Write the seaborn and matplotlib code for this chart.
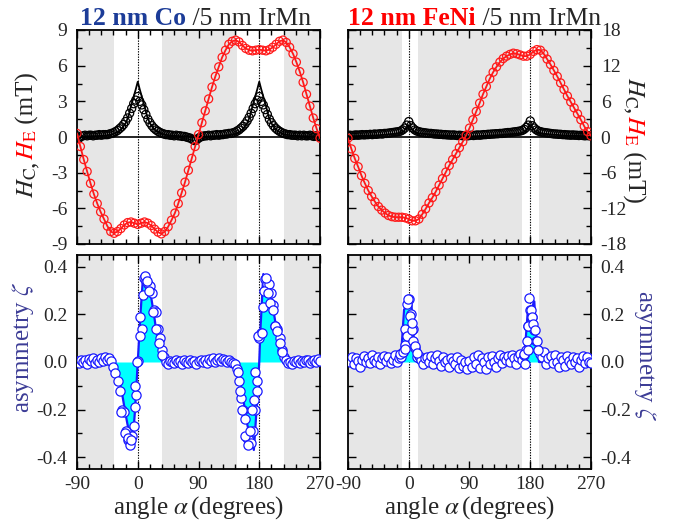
import numpy as np
import pandas as pd
import matplotlib
matplotlib.use("Agg")
import matplotlib.pyplot as plt
import seaborn as sns
from matplotlib.ticker import MultipleLocator, FuncFormatter

# ------------------------------------------------------------------ data
angle5 = np.arange(-90, 271, 5)    # grid of the exchange-bias curves
angle3 = np.arange(-90, 271, 3)    # grid of coercivity / asymmetry points

# 12 nm Co : exchange bias field H_E (mT), every 5 deg from -90
co_HE = [0.3, -0.8, -1.9, -2.9, -3.9, -4.8, -5.6, -6.3, -6.9, -7.5,
         -7.95, -8.1, -7.95, -7.7, -7.4, -7.2, -7.15, -7.25, -7.35, -7.25,
         -7.15, -7.25, -7.45, -7.75, -8.0, -8.15, -7.95, -7.55, -7.0, -6.4,
         -5.6, -4.7, -3.8, -2.8, -1.8, -0.8, 0.2, 1.2, 2.2, 3.2,
         4.2, 5.1, 5.9, 6.7, 7.3, 7.8, 8.05, 8.15, 8.0, 7.7,
         7.45, 7.3, 7.25, 7.3, 7.35, 7.3, 7.25, 7.35, 7.55, 7.8,
         8.05, 8.15, 7.95, 7.55, 7.0, 6.3, 5.5, 4.6, 3.6, 2.6,
         1.6, 0.7, -0.1]

# 12 nm Co : coercive field H_C (mT), every 3 deg from -90
co_HC = [0.10, -0.10, 0.05, 0.10, 0.15, 0.10, 0.15, 0.15, 0.10, 0.15,
         0.15, 0.20, 0.15, 0.20, 0.20, 0.20, 0.25, 0.30, 0.35, 0.45,
         0.55, 0.70, 0.85, 1.05, 1.30, 1.60, 2.00, 2.40, 2.80, 3.10,
         3.40, 3.00, 2.70, 2.30, 1.90, 1.50, 1.20, 0.95, 0.75, 0.60,
         0.48, 0.38, 0.30, 0.25, 0.20, 0.20, 0.15, 0.15, 0.10, 0.15,
         0.10, 0.10, 0.05, 0.05, 0.00, -0.05, -0.10, -0.20, -0.30, -0.25,
         -0.10, 0.00, 0.05, 0.10, 0.10, 0.15, 0.10, 0.15, 0.15, 0.20,
         0.15, 0.20, 0.20, 0.25, 0.25, 0.30, 0.30, 0.35, 0.40, 0.50,
         0.60, 0.75, 0.90, 1.10, 1.35, 1.65, 2.00, 2.40, 2.80, 3.10,
         3.40, 3.00, 2.70, 2.30, 1.90, 1.50, 1.20, 0.95, 0.75, 0.60,
         0.48, 0.38, 0.30, 0.25, 0.20, 0.20, 0.15, 0.15, 0.15, 0.10,
         0.15, 0.10, 0.15, 0.10, 0.10, 0.15, 0.10, 0.05, 0.10, 0.05,
         0.00]

# 12 nm Co : model curve of H_C
co_HC_fit_angle = [-90, -60, -45, -36, -30, -24, -18, -14, -10, -6, -3, 0, 3, 6, 10,
                   14, 18, 24, 30, 36, 45, 60, 90, 120, 135, 144, 150, 156, 162, 166,
                   170, 174, 177, 180, 183, 186, 190, 194, 198, 204, 210, 216, 225, 240, 270]
co_HC_fit = [0.05, 0.08, 0.15, 0.25, 0.40, 0.68, 1.15, 1.70, 2.60, 3.40, 4.00, 4.65, 4.00, 3.40, 2.60,
             1.70, 1.15, 0.68, 0.40, 0.25, 0.15, 0.08, 0.05, 0.08, 0.15, 0.25, 0.40, 0.68, 1.15, 1.70,
             2.60, 3.40, 4.00, 4.65, 4.00, 3.40, 2.60, 1.70, 1.15, 0.68, 0.40, 0.25, 0.15, 0.08, 0.05]

# 12 nm FeNi : exchange bias field H_E (mT), every 5 deg from -90
fe_HE = [-0.2, -2.0, -3.6, -5.0, -6.5, -7.8, -9.0, -10.0, -10.9, -11.7,
         -12.3, -12.8, -13.2, -13.4, -13.5, -13.5, -13.5, -13.6, -13.8, -14.1,
         -14.1, -13.8, -13.0, -12.1, -11.1, -10.2, -9.2, -8.1, -7.0, -5.9,
         -4.8, -3.8, -2.8, -1.8, -0.8, 0.3, 1.5, 2.9, 4.3, 5.7,
         7.2, 8.5, 9.8, 10.9, 11.8, 12.6, 13.2, 13.6, 13.9, 14.1,
         14.0, 13.8, 13.6, 13.6, 13.9, 14.4, 14.7, 14.6, 14.0, 13.1,
         12.2, 11.2, 10.2, 9.1, 8.0, 6.9, 5.9, 4.9, 3.9, 2.9,
         1.8, 0.9, 0.2]

# 12 nm FeNi : coercive field H_C (mT), every 3 deg from -90
fe_HC = [0.20, 0.30, 0.25, 0.30, 0.35, 0.30, 0.35, 0.40, 0.35, 0.40,
         0.40, 0.45, 0.40, 0.50, 0.45, 0.50, 0.55, 0.50, 0.60, 0.60,
         0.65, 0.70, 0.75, 0.80, 0.85, 0.90, 1.00, 1.20, 1.50, 2.00,
         2.60, 1.90, 1.50, 1.20, 1.00, 0.90, 0.80, 0.75, 0.70, 0.65,
         0.60, 0.60, 0.55, 0.50, 0.50, 0.45, 0.45, 0.40, 0.40, 0.35,
         0.35, 0.30, 0.35, 0.30, 0.25, 0.30, 0.25, 0.20, 0.25, 0.20,
         0.25, 0.30, 0.25, 0.30, 0.35, 0.30, 0.35, 0.40, 0.40, 0.45,
         0.45, 0.50, 0.50, 0.55, 0.55, 0.60, 0.60, 0.65, 0.70, 0.75,
         0.75, 0.80, 0.85, 0.90, 0.95, 1.00, 1.10, 1.30, 1.60, 2.00,
         2.70, 1.90, 1.50, 1.20, 1.00, 0.90, 0.80, 0.75, 0.70, 0.65,
         0.60, 0.55, 0.50, 0.50, 0.45, 0.45, 0.40, 0.40, 0.35, 0.35,
         0.30, 0.35, 0.30, 0.30, 0.25, 0.30, 0.25, 0.20, 0.25, 0.20,
         0.20]

fe_HC_fit_angle = [-90, -45, -15, -8, 0, 8, 15, 45, 90, 135, 165, 172, 180, 188, 195, 225, 270]
fe_HC_fit = [0.1, 0.3, 0.6, 0.9, 2.0, 0.9, 0.6, 0.3, 0.1, 0.3, 0.6, 0.9, 2.0, 0.9, 0.6, 0.3, 0.1]

# 12 nm Co : asymmetry zeta, every 3 deg from -90 (+ extra points)
co_zeta = [0.005, -0.005, 0.010, 0.000, 0.008, -0.010, 0.012, 0.005, 0.015, -0.005,
           0.010, 0.000, 0.015, 0.005, 0.020, 0.010, 0.015, 0.005, -0.020, -0.045,
           -0.080, -0.120, -0.200, -0.210, -0.290, -0.330, -0.350, -0.310, -0.270, -0.140,
           0.005, 0.190, 0.140, 0.355, 0.340, 0.330, 0.320, 0.290, 0.220, 0.210,
           0.140, 0.100, 0.050, 0.020, 0.000, -0.010, 0.005, 0.000, -0.005, 0.010,
           0.000, 0.005, -0.010, 0.008, 0.000, -0.005, 0.010, 0.000, 0.005, -0.008,
           0.005, 0.010, 0.000, 0.008, -0.005, 0.012, 0.005, 0.015, 0.000, 0.010,
           0.018, 0.005, 0.012, 0.010, 0.000, 0.008, 0.000, -0.005, -0.010, -0.030,
           -0.080, -0.150, -0.200, -0.240, -0.320, -0.330, -0.340, -0.290, -0.200, -0.120,
           0.100, 0.120, 0.230, 0.350, 0.330, 0.330, 0.290, 0.240, 0.150, 0.140,
           0.100, 0.050, 0.020, 0.010, -0.005, 0.000, -0.010, 0.005, 0.000, 0.010,
           -0.005, 0.005, 0.000, 0.008, 0.010, -0.005, 0.005, 0.010, 0.000, 0.012,
           0.005]
co_zeta_x_angle = [-25, -19, -14, -10, -4.5, -4, -1, 4, 8, 10, 13, 17, 22, 27, 31, 36,
                   148, 152, 155, 159, 163, 166, 169, 172, 174, 177, 178.6,
                   184, 187, 190, 193, 196, 200, 203, 206, 211, 214]
co_zeta_x = [-0.21, -0.30, -0.32, -0.33, -0.10, -0.19, 0.00, 0.11, 0.28, 0.36, 0.34, 0.30, 0.21, 0.14, 0.08, 0.03,
             -0.04, -0.12, -0.20, -0.31, -0.35, -0.29, -0.20, -0.16, -0.04, -0.08, 0.108,
             0.12, 0.30, 0.355, 0.29, 0.25, 0.22, 0.15, 0.13, 0.08, 0.04]

co_zfit_angle = [-90, -40, -36, -30, -24, -18, -12, -8, -4, 0,
                 4, 8, 12, 16, 20, 24, 28, 32, 36, 40,
                 140, 144, 150, 156, 162, 168, 172, 176, 180, 182,
                 186, 190, 194, 198, 202, 206, 210, 214, 218, 270]
co_zfit = [0.0, 0.0, -0.01, -0.05, -0.12, -0.22, -0.31, -0.355, -0.20, 0.0,
           0.20, 0.367, 0.35, 0.32, 0.27, 0.20, 0.12, 0.06, 0.02, 0.0,
           0.0, -0.005, -0.06, -0.15, -0.26, -0.33, -0.37, -0.20, 0.0, 0.15,
           0.37, 0.35, 0.33, 0.27, 0.20, 0.13, 0.05, 0.01, 0.0, 0.0]

# 12 nm FeNi : asymmetry zeta, every 3 deg from -90 (+ extra points)
fe_zeta = [0.010, 0.000, 0.020, -0.010, 0.015, 0.005, -0.020, 0.010, 0.025, 0.000,
           0.015, -0.005, 0.030, 0.010, 0.000, 0.020, -0.010, 0.015, 0.025, 0.005,
           0.020, -0.005, 0.010, 0.030, 0.000, 0.015, 0.020, 0.040, 0.070, 0.120,
           0.265, 0.200, 0.140, 0.060, 0.020, 0.025, 0.010, -0.010, 0.015, 0.020,
           0.000, 0.025, -0.010, 0.015, 0.030, 0.005, -0.015, 0.020, 0.000, 0.010,
           -0.020, 0.015, 0.005, -0.010, 0.020, -0.025, 0.010, -0.015, 0.000, -0.030,
           0.005, -0.020, 0.020, -0.010, 0.030, -0.025, 0.015, 0.000, -0.030, 0.020,
           -0.010, 0.025, 0.000, -0.020, 0.015, 0.030, -0.005, 0.020, 0.010, 0.025,
           0.000, 0.030, 0.015, -0.010, 0.020, 0.035, 0.010, 0.030, 0.050, 0.150,
           0.220, 0.190, 0.135, 0.087, 0.050, 0.035, 0.020, 0.040, -0.010, 0.015,
           0.025, -0.005, 0.030, 0.000, -0.020, 0.020, 0.010, -0.015, 0.025, 0.005,
           -0.010, 0.020, 0.000, 0.015, -0.020, 0.010, 0.025, -0.005, 0.020, 0.000,
           -0.005]
fe_zeta_x_angle = [-13, -8, -5.6, -5.6, -3.2, -2.0, -0.6, 1.9, 4.3, 5.3, 6.7, 9.1, 11.6,
                   171, 172, 175.7, 176, 177, 178.6, 180.6, 182, 184.5, 187, 189.5, 192]
fe_zeta_x = [0.035, 0.04, 0.055, 0.14, 0.11, 0.245, 0.265, 0.195, 0.135, 0.165, 0.09, 0.066, 0.038,
             0.035, -0.01, 0.09, 0.05, 0.15, 0.27, 0.22, 0.19, 0.16, 0.135, 0.087, 0.05]

fe_zfit_angle = [-90, -12, -7, -2, 4, 6, 9, 12, 168, 171, 176, 181, 186, 188, 190, 193, 270]
fe_zfit = [0.0, 0.0, 0.22, 0.24, 0.245, 0.15, 0.05, 0.0, 0.0, 0.01, 0.20, 0.22, 0.255, 0.15, 0.08, 0.0, 0.0]

# angular windows left unshaded (white) in each column
co_white = [(-35, 36), (147, 217)]
fe_white = [(-10.5, 13), (168, 193)]
marker_lines = [0, 180]

# ------------------------------------------------------------------ style
sns.set_theme(style="white")
plt.rcParams['font.family'] = ['Liberation Serif', 'DejaVu Serif']
plt.rcParams['mathtext.fontset'] = 'stix'
plt.rcParams['axes.unicode_minus'] = False

GRAY = '#e6e6e6'
RED = '#ff1a1a'
BLUE = '#1a1aff'
CYAN = '#00ffff'
TXT = '#262626'
CO_BLUE = '#1c3c98'
ZLAB = '#3c3c96'

W, H = 674, 524
fig = plt.figure(figsize=(W / 100, H / 100), dpi=100)
fig.patch.set_facecolor('white')


def px_axes(x0, y0_top, x1, y1_top):
    return fig.add_axes([x0 / W, 1 - y1_top / H, (x1 - x0) / W, (y1_top - y0_top) / H])


ax_tl = px_axes(77, 30, 320, 244)
ax_bl = px_axes(77, 255, 320, 469)
ax_tr = px_axes(348, 30, 591, 244)
ax_br = px_axes(348, 255, 591, 469)


def shade(ax, whites):
    edges = [-90]
    for a, b in whites:
        edges += [a, b]
    edges += [270]
    for k in range(0, len(edges), 2):
        ax.axvspan(edges[k], edges[k + 1], color=GRAY, lw=0, zorder=0)
    for v in marker_lines:
        ax.axvline(v, color='black', lw=0.8, ls=(0, (1.2, 1.2)), zorder=1)


def fmt_top(v, pos):
    return '%d' % round(v)


def fmt_bot(v, pos):
    if abs(v) < 1e-9:
        return '0.0'
    return '%.1f' % v


def style(ax, ylim, ymaj, ymin, fmt, left, bottom):
    ax.set_xlim(-90, 270)
    ax.set_ylim(*ylim)
    ax.xaxis.set_major_locator(MultipleLocator(90))
    ax.xaxis.set_minor_locator(MultipleLocator(18))
    ax.yaxis.set_major_locator(MultipleLocator(ymaj))
    ax.yaxis.set_minor_locator(MultipleLocator(ymin))
    ax.yaxis.set_major_formatter(FuncFormatter(fmt))
    ax.xaxis.set_major_formatter(FuncFormatter(lambda v, p: '%d' % round(v)))
    ax.tick_params(which='both', direction='in', top=True, right=True, bottom=True, left=True,
                   colors='black', labelcolor=TXT, labelsize=14, width=1.0)
    ax.tick_params(which='major', length=6)
    ax.tick_params(which='minor', length=3.5)
    ax.tick_params(axis='y', pad=7, labelleft=left, labelright=not left)
    ax.tick_params(axis='x', pad=5, labelbottom=bottom)
    for s in ax.spines.values():
        s.set_color('black')
        s.set_linewidth(1.3)
        s.set_visible(True)
    ax.set_xlabel('')
    ax.set_ylabel('')
    ax.set_facecolor('white')


# ------------------------------------------------------------------ top panels
for ax, whites, HE, HC, hcfa, hcf, ylim, ymaj, ymin, left in [
        (ax_tl, co_white, co_HE, co_HC, co_HC_fit_angle, co_HC_fit, (-9, 9), 3, 1.5, True),
        (ax_tr, fe_white, fe_HE, fe_HC, fe_HC_fit_angle, fe_HC_fit, (-18, 18), 6, 3, False)]:
    shade(ax, whites)
    ax.axhline(0, color='black', lw=1.2, zorder=1)
    sns.scatterplot(x=angle3, y=HC, ax=ax, s=34, facecolors='none', edgecolor='black',
                    linewidth=0.9, legend=False, zorder=3)
    sns.lineplot(x=hcfa, y=hcf, ax=ax, color='black', lw=1.3, estimator=None, sort=False,
                 legend=False, zorder=3.5)
    sns.scatterplot(x=angle5, y=HE, ax=ax, s=34, facecolors='none', edgecolor=RED,
                    linewidth=0.9, legend=False, zorder=4)
    sns.lineplot(x=angle5, y=HE, ax=ax, color=RED, lw=1.3, estimator=None, sort=False,
                 legend=False, zorder=4.5)
    style(ax, ylim, ymaj, ymin, fmt_top, left, False)

# ------------------------------------------------------------------ bottom panels
for ax, whites, Z, zxa, zx, zfa, zf, left in [
        (ax_bl, co_white, co_zeta, co_zeta_x_angle, co_zeta_x, co_zfit_angle, co_zfit, True),
        (ax_br, fe_white, fe_zeta, fe_zeta_x_angle, fe_zeta_x, fe_zfit_angle, fe_zfit, False)]:
    shade(ax, whites)
    ax.fill_between(zfa, zf, 0, color=CYAN, lw=0, zorder=2)
    sns.lineplot(x=zfa, y=zf, ax=ax, color=BLUE, lw=1.6, estimator=None, sort=False,
                 legend=False, zorder=3)
    all_a = list(angle3) + list(zxa)
    all_z = list(Z) + list(zx)
    sns.scatterplot(x=all_a, y=all_z, ax=ax, s=44, color='white', facecolors='white',
                    edgecolor=BLUE, linewidth=0.9, legend=False, zorder=4)
    style(ax, (-0.45, 0.45), 0.2, 0.1, fmt_bot, left, True)
    ax.set_xlabel(r'angle $\alpha\,$(degrees)', fontsize=18, color=TXT, labelpad=1)

# ------------------------------------------------------------------ multicolour texts
renderer = fig.canvas.get_renderer()


def chain(x, y, parts, rotation=0, size=18):
    for s, color, weight in parts:
        t = fig.text(x / W, y / H, s, color=color, fontsize=size, fontweight=weight,
                     rotation=rotation, rotation_mode='anchor', ha='left', va='baseline')
        bb = t.get_window_extent(renderer=renderer)
        if rotation == 0:
            x = bb.x1
        elif rotation == 90:
            y = bb.y1
        else:
            y = bb.y0


chain(80, H - 25, [('12 nm Co', CO_BLUE, 'bold'), (' /5 nm IrMn', TXT, 'normal')], size=18.5)
chain(348, H - 25, [('12 nm FeNi', 'red', 'bold'), (' /5 nm IrMn', TXT, 'normal')], size=18.5)

hc_parts = [(r'$H_{\mathrm{C}}$', TXT, 'normal'), (',', TXT, 'normal'),
            (r'$H_{\mathrm{E}}$', 'red', 'normal'), (' (mT)', TXT, 'normal')]
chain(34, H - 198, hc_parts, rotation=90)
chain(627, H - 77, hc_parts, rotation=270)

chain(29, H - 413, [(r'asymmetry $\zeta$', ZLAB, 'normal')], rotation=90)
chain(639, H - 290, [(r'asymmetry $\zeta$', ZLAB, 'normal')], rotation=270)

fig.savefig('out.png', dpi=100, facecolor='white')
